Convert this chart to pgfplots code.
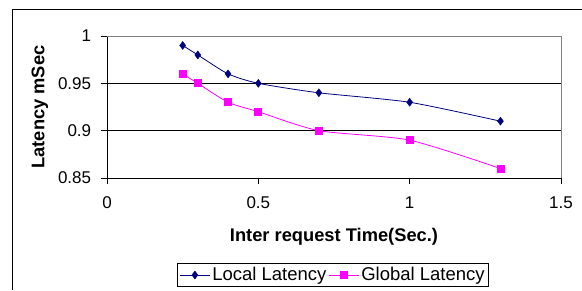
\documentclass[border=0pt]{standalone}
\usepackage{pgfplots}
\pgfplotsset{compat=1.18}
\usepackage{fontspec}
\setmainfont{Liberation Sans}
\definecolor{navyline}{RGB}{0,0,128}
\definecolor{magline}{RGB}{255,0,255}
\begin{document}
\begin{tikzpicture}[x=1pt,y=1pt]
\fontsize{17}{20}\selectfont
\useasboundingbox (0,0) rectangle (582,290);
\draw[black, line width=0.8pt] (12,0) -- (12,281) -- (582,281);
\begin{axis}[
  at={(107pt,112pt)}, anchor=south west,
  scale only axis, width=454pt, height=142pt,
  xmin=0, xmax=1.5, ymin=0.85, ymax=1,
  xtick={0,0.5,1,1.5}, ytick={0.85,0.9,0.95,1},
  yticklabels={0.85,0.9,0.95,1},
  xticklabels={0,0.5,1,1.5},
  xtick pos=left, ytick pos=left,
  axis line style={black, line width=0.8pt},
  tick align=outside, major tick length=6pt,
  tick style={black, line width=0.8pt},
  ymajorgrids, grid style={black, line width=0.8pt},
  ticklabel style={font=\fontsize{17}{20}\selectfont},
  xticklabel style={yshift=-7pt},
  yticklabel style={xshift=-4pt},
  xlabel={\textbf{Inter request Time(Sec.)}},
  ylabel={\textbf{Latency mSec}},
  label style={font=\fontsize{18.3}{21}\selectfont},
  xlabel style={at={(axis description cs:0.5,-0.415)}, anchor=center},
  ylabel style={at={(axis description cs:-0.1476,0.5)}, anchor=center},
  legend style={at={(axis description cs:0.498,-0.683)}, anchor=center, legend columns=2, draw=black, line width=0.8pt,
    font=\fontsize{18.5}{21}\selectfont, inner xsep=2pt, inner ysep=1.5pt,
    /tikz/every odd column/.append style={column sep=0pt}},
  legend cell align=left,
  legend image code/.code={\draw[mark repeat=2,mark phase=2,#1] plot coordinates {(0pt,0pt) (15pt,0pt) (30pt,0pt)};},
  clip=false,
  after end axis/.code={\draw[gray, line width=0.8pt] (rel axis cs:0,1) -- (rel axis cs:1,1) -- (rel axis cs:1,0);},
]
\addplot[navyline, line width=0.8pt, smooth, tension=0.4, mark=diamond*, mark size=4pt, mark options={solid, fill=navyline, line width=0.4pt}]
coordinates {(0.25,0.99) (0.3,0.98) (0.4,0.96) (0.5,0.95) (0.7,0.94) (1.0,0.93) (1.3,0.91)};
\addlegendentry{Local Latency}
\addplot[magline, line width=0.8pt, smooth, tension=0.4, mark=square*, mark size=3.5pt, mark options={solid, fill=magline}]
coordinates {(0.25,0.96) (0.3,0.95) (0.4,0.93) (0.5,0.92) (0.7,0.90) (1.0,0.89) (1.3,0.86)};
\addlegendentry{Global Latency}
\end{axis}
\end{tikzpicture}
\end{document}
